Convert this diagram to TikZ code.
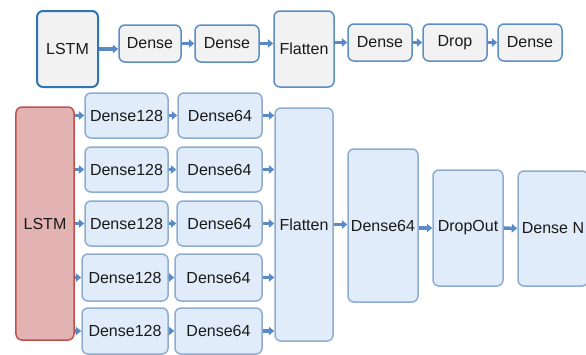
\documentclass[tikz,border=0pt]{standalone}
\usepackage{fontspec}
\setmainfont{Liberation Sans}
\usetikzlibrary{arrows.meta}
\definecolor{arrowblue}{HTML}{5A8AC6}
\definecolor{boxline}{HTML}{5B8EC4}
\definecolor{lstmline}{HTML}{2E75B6}
\definecolor{paleline}{HTML}{8EACCF}
\definecolor{palefill}{HTML}{E1ECFA}
\definecolor{grayfill}{HTML}{F2F2F2}
\definecolor{redline}{HTML}{C0504D}
\definecolor{redfill}{HTML}{E3B2B2}
\begin{document}
\begin{tikzpicture}[x=1bp,y=-1bp,
    layer/.style={draw=boxline,fill=grayfill,line width=1.5bp,rounded corners=6bp,
      inner sep=1bp,text=black!90,font=\fontsize{16bp}{19bp}\selectfont},
    bluelayer/.style={layer,draw=paleline,fill=palefill},
    link/.style={draw=arrowblue,line width=3.5bp,-{Triangle[length=5.5bp,width=8.5bp]}}]
    \useasboundingbox (0,0) rectangle (586,354);
    % top: single LSTM branch
    \node[layer,draw=lstmline,line width=2bp,minimum width=61bp,minimum height=76bp] (lstmT) at (67.5,49) {LSTM};
    \node[layer,minimum width=62bp,minimum height=37bp] (denseA) at (150,43.5) {Dense};
    \node[layer,minimum width=64bp,minimum height=37bp] (denseB) at (227,43.5) {Dense};
    \node[layer,minimum width=60bp,minimum height=76bp] (flatT) at (304,49) {Flatten};
    \node[layer,minimum width=64bp,minimum height=37bp] (denseC) at (380,42.5) {Dense};
    \node[layer,minimum width=64bp,minimum height=37bp] (dropT) at (455,42.5) {Drop};
    \node[layer,minimum width=64bp,minimum height=37bp] (denseD) at (530,42.5) {Dense};
    \draw[link] (lstmT) -- (lstmT -| denseA.west);
    \draw[link] (denseA) -- (denseB);
    \draw[link] (denseB) -- (denseB -| flatT.west);
    \draw[link] (flatT.east |- denseC.west) -- (denseC);
    \draw[link] (denseC) -- (dropT);
    \draw[link] (dropT) -- (denseD);
    % bottom: LSTM with five branches
    \node[bluelayer,draw=redline,fill=redfill,minimum width=58bp,minimum height=233bp] (lstmB) at (45,223.5) {LSTM};
    \node[bluelayer,minimum width=58bp,minimum height=233bp] (flatB) at (304,224.5) {Flatten};
    \foreach \i/\y/\h/\xa/\wa/\xb/\wb in {1/115.5/45/126.5/83/220/84,2/169.5/45/126.5/83/219.5/85,
        3/223.5/45/126.5/83/219.5/85,4/277.5/47/125/86/218.5/87,5/331/46/125/86/218.5/87}{
      \node[bluelayer,minimum width=\wa bp,minimum height=\h bp] (big\i) at (\xa,\y) {Dense128};
      \node[bluelayer,minimum width=\wb bp,minimum height=\h bp] (small\i) at (\xb,\y) {Dense64};
      \draw[link] (lstmB.east |- big\i.west) -- (big\i.west);
      \draw[link] (big\i) -- (small\i);
      \draw[link] (small\i) -- (small\i -| flatB.west);
    }
    \node[bluelayer,minimum width=70bp,minimum height=153bp] (denseE) at (383,225.5) {Dense64};
    \node[bluelayer,minimum width=70bp,minimum height=116bp] (dropB) at (468,228) {DropOut};
    \node[bluelayer,minimum width=70bp,minimum height=115bp] (denseN) at (553,228.5) {Dense N};
    \draw[link] (flatB) -- (flatB -| denseE.west);
    \draw[link] (denseE.east |- dropB.west) -- (dropB);
    \draw[link] (dropB) -- (denseN);
\end{tikzpicture}
\end{document}
